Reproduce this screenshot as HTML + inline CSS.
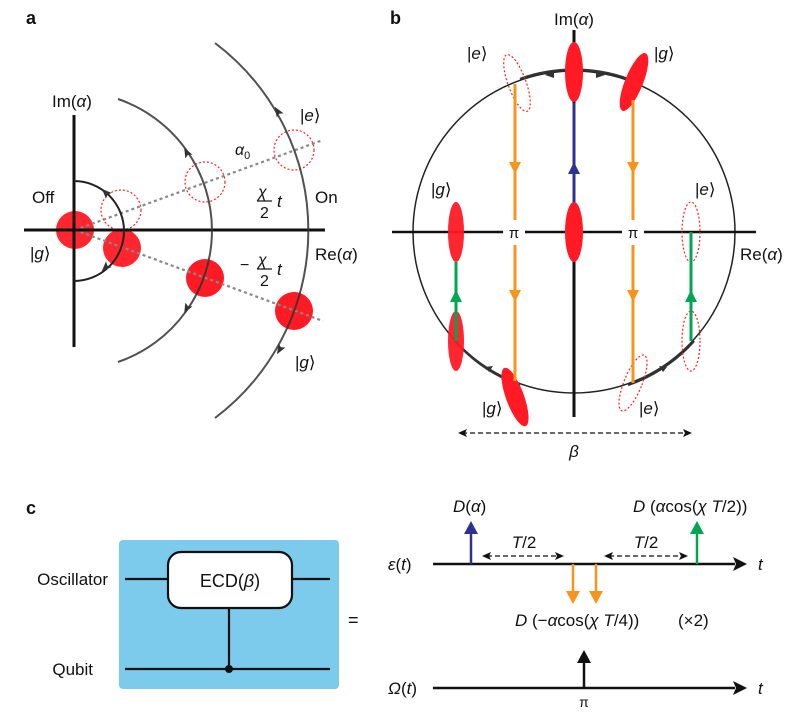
<!DOCTYPE html>
<html><head><meta charset="utf-8"><style>
html,body{margin:0;padding:0;background:#fff}
svg text{font-family:"Liberation Sans",sans-serif;fill:#111}
.i{font-style:italic}
</style></head><body>
<svg width="790" height="717" viewBox="0 0 790 717" xmlns="http://www.w3.org/2000/svg">
<!-- Panel a -->
<text x="26" y="24" font-weight="bold" font-size="18">a</text>
<circle cx="75" cy="230" r="19" fill="#ff1a24" opacity="0.95"/>
<circle cx="122" cy="248" r="19" fill="#ff1a24" opacity="0.95"/>
<circle cx="205" cy="278" r="19" fill="#ff1a24"/>
<circle cx="294" cy="311" r="19" fill="#ff1a24"/>
<line x1="75" y1="230" x2="323" y2="140" stroke="#888" stroke-width="2.2" stroke-dasharray="3,3"/>
<line x1="75" y1="230" x2="323" y2="321" stroke="#888" stroke-width="2.2" stroke-dasharray="3,3"/>
<circle cx="121" cy="210" r="20" fill="none" stroke="#f22" stroke-width="1.2" stroke-dasharray="2,2"/>
<circle cx="205" cy="182" r="20" fill="none" stroke="#f22" stroke-width="1.2" stroke-dasharray="2,2"/>
<circle cx="294" cy="150" r="20" fill="none" stroke="#f22" stroke-width="1.2" stroke-dasharray="2,2"/>
<line x1="74" y1="115" x2="74" y2="347" stroke="#111" stroke-width="3"/>
<line x1="24" y1="230" x2="325" y2="230" stroke="#111" stroke-width="3"/>
<path d="M74,181 A49,49 0 0 1 74,281" fill="none" stroke="#222" stroke-width="2"/>
<path d="M118,99 A139,139 0 0 1 118,362" fill="none" stroke="#333" stroke-width="2" opacity="0.85"/>
<path d="M215,43 A235,235 0 0 1 215,418" fill="none" stroke="#333" stroke-width="2" opacity="0.85"/>
<g fill="#333">
<path d="M0,-6 L4,4 L0,2 L-4,4z" transform="translate(106,193) rotate(-45)"/>
<path d="M0,-6 L4,4 L0,2 L-4,4z" transform="translate(106,267) rotate(-135)"/>
<path d="M0,-6 L4,4 L0,2 L-4,4z" transform="translate(187,153) rotate(-28)"/>
<path d="M0,-6 L4,4 L0,2 L-4,4z" transform="translate(187,308) rotate(-152)"/>
<path d="M0,-6 L4,4 L0,2 L-4,4z" transform="translate(278,112) rotate(-32)"/>
<path d="M0,-6 L4,4 L0,2 L-4,4z" transform="translate(280,349) rotate(-150)"/>
</g>
<text x="52" y="107" font-size="17">Im(<tspan class="i">α</tspan>)</text>
<text x="300" y="121" font-size="17">|<tspan class="i">e</tspan>⟩</text>
<text x="235" y="155" font-size="16" class="i">α<tspan font-size="11" dy="4" font-style="normal">0</tspan></text>
<text x="258" y="197" font-size="16" class="i">χ</text>
<line x1="257" y1="201" x2="272" y2="201" stroke="#111" stroke-width="1.2"/>
<text x="260" y="218" font-size="16">2</text>
<text x="277" y="207" font-size="17" class="i">t</text>
<text x="315" y="203" font-size="17">On</text>
<text x="32" y="203" font-size="17">Off</text>
<text x="30" y="259" font-size="17">|<tspan class="i">g</tspan>⟩</text>
<text x="315" y="260" font-size="17">Re(<tspan class="i">α</tspan>)</text>
<text x="240" y="270" font-size="16">−</text>
<text x="258" y="265" font-size="16" class="i">χ</text>
<line x1="257" y1="269" x2="272" y2="269" stroke="#111" stroke-width="1.2"/>
<text x="260" y="286" font-size="16">2</text>
<text x="277" y="275" font-size="17" class="i">t</text>
<text x="295" y="368" font-size="17">|<tspan class="i">g</tspan>⟩</text>

<!-- Panel b -->
<text x="390" y="24" font-weight="bold" font-size="18">b</text>
<circle cx="574" cy="232" r="161" fill="none" stroke="#222" stroke-width="1.5"/>
<path d="M520,79 A161,161 0 0 1 628,79" fill="none" stroke="#333" stroke-width="2.5"/>
<path d="M455,341 A161,161 0 0 0 520,385" fill="none" stroke="#333" stroke-width="2.5"/>
<path d="M628,385 A161,161 0 0 0 694,341" fill="none" stroke="#333" stroke-width="2.5"/>
<path d="M545,75 l9,-4 l0,7z" fill="#333"/>
<path d="M605,75 l-9,-4 l0,7z" fill="#333"/>
<path d="M485,367 l8,-1 l-4,6z" fill="#333"/>
<path d="M667,367 l-8,-1 l4,6z" fill="#333"/>
<line x1="392" y1="232" x2="756" y2="232" stroke="#111" stroke-width="2.5"/>
<line x1="574" y1="30" x2="574" y2="417" stroke="#111" stroke-width="3"/>
<ellipse cx="574" cy="72" rx="9" ry="30" fill="#ff1a24"/>
<ellipse cx="574" cy="232" rx="9" ry="30" fill="#ff1a24"/>
<ellipse cx="456" cy="232" rx="8" ry="30" fill="#ff1a24" opacity="0.95"/>
<ellipse cx="456" cy="341" rx="8" ry="30" fill="#ff1a24" opacity="0.95"/>
<ellipse cx="515" cy="397" rx="9" ry="31" fill="#ff1a24" transform="rotate(-20 515 397)"/>
<ellipse cx="634" cy="82" rx="9" ry="31" fill="#ff1a24" transform="rotate(22 634 82)"/>
<g fill="none" stroke="#f22" stroke-width="1.2" stroke-dasharray="2,2">
<ellipse cx="517" cy="83" rx="9" ry="30" transform="rotate(-20 517 83)"/>
<ellipse cx="691" cy="232" rx="9" ry="30"/>
<ellipse cx="691" cy="341" rx="9" ry="30"/>
<ellipse cx="633" cy="383" rx="9" ry="30" transform="rotate(22 633 383)"/>
</g>
<g stroke="#f7941d" stroke-width="3">
<line x1="515" y1="84" x2="515" y2="220"/><line x1="515" y1="245" x2="515" y2="381"/>
<line x1="633" y1="100" x2="633" y2="220"/><line x1="633" y1="245" x2="633" y2="383"/>
</g>
<g fill="#f7941d">
<path d="M509,162 h12 l-6,12z"/><path d="M509,290 h12 l-6,12z"/>
<path d="M627,162 h12 l-6,12z"/><path d="M627,290 h12 l-6,12z"/>
</g>
<line x1="574" y1="103" x2="574" y2="202" stroke="#2e3192" stroke-width="3"/>
<path d="M568,174 h12 l-6,-12z" fill="#2e3192"/>
<line x1="456" y1="262" x2="456" y2="341" stroke="#00a651" stroke-width="3"/>
<path d="M450,302 h12 l-6,-12z" fill="#00a651"/>
<line x1="691" y1="232" x2="691" y2="341" stroke="#00a651" stroke-width="3"/>
<path d="M685,302 h12 l-6,-12z" fill="#00a651"/>
<rect x="503" y="224" width="22" height="16" fill="#fff"/>
<rect x="622" y="224" width="22" height="16" fill="#fff"/>
<text x="514" y="238" font-size="15" text-anchor="middle">π</text>
<text x="633" y="238" font-size="15" text-anchor="middle">π</text>
<text x="574" y="25" font-size="17" text-anchor="middle">Im(<tspan class="i">α</tspan>)</text>
<text x="467" y="59" font-size="17">|<tspan class="i">e</tspan>⟩</text>
<text x="654" y="59" font-size="17">|<tspan class="i">g</tspan>⟩</text>
<text x="431" y="195" font-size="17">|<tspan class="i">g</tspan>⟩</text>
<text x="695" y="195" font-size="17">|<tspan class="i">e</tspan>⟩</text>
<text x="740" y="260" font-size="17">Re(<tspan class="i">α</tspan>)</text>
<text x="482" y="414" font-size="17">|<tspan class="i">g</tspan>⟩</text>
<text x="639" y="414" font-size="17">|<tspan class="i">e</tspan>⟩</text>
<line x1="462" y1="433" x2="688" y2="433" stroke="#111" stroke-width="1.3" stroke-dasharray="5,3"/>
<path d="M458,433 l9,-4 l-2,4 l2,4z" fill="#111"/>
<path d="M692,433 l-9,-4 l2,4 l-2,4z" fill="#111"/>
<text x="574" y="457" font-size="17" text-anchor="middle" class="i">β</text>

<!-- Panel c -->
<text x="26" y="514" font-weight="bold" font-size="18">c</text>
<rect x="119" y="540" width="220" height="149" rx="4" fill="#7ccbed"/>
<line x1="125" y1="579" x2="330" y2="579" stroke="#111" stroke-width="2.2"/>
<line x1="125" y1="669" x2="330" y2="669" stroke="#111" stroke-width="2.2"/>
<line x1="229" y1="600" x2="229" y2="669" stroke="#111" stroke-width="2.2"/>
<circle cx="229" cy="669" r="4" fill="#111"/>
<rect x="168" y="552" width="124" height="56" rx="13" fill="#fff" stroke="#111" stroke-width="2.2"/>
<text x="230" y="587" font-size="18" text-anchor="middle">ECD(<tspan class="i">β</tspan>)</text>
<text x="108" y="585" font-size="17" text-anchor="end">Oscillator</text>
<text x="93" y="675" font-size="17" text-anchor="end">Qubit</text>
<text x="348" y="626" font-size="18">=</text>

<line x1="433" y1="564" x2="735" y2="564" stroke="#111" stroke-width="2.5"/>
<path d="M747,564 l-14,-7 l3,7 l-3,7z" fill="#111"/>
<text x="758" y="570" font-size="17" class="i">t</text>
<text x="388" y="570" font-size="17" class="i">ε<tspan font-style="normal">(</tspan>t<tspan font-style="normal">)</tspan></text>
<line x1="471" y1="564" x2="471" y2="530" stroke="#2e3192" stroke-width="2.5"/>
<path d="M464,534 l7,-13 l7,13z" fill="#2e3192"/>
<line x1="697" y1="564" x2="697" y2="530" stroke="#00a651" stroke-width="2.5"/>
<path d="M690,534 l7,-13 l7,13z" fill="#00a651"/>
<line x1="573" y1="564" x2="573" y2="594" stroke="#f7941d" stroke-width="2.5"/>
<path d="M566,591 l7,13 l7,-13z" fill="#f7941d"/>
<line x1="596" y1="564" x2="596" y2="594" stroke="#f7941d" stroke-width="2.5"/>
<path d="M589,591 l7,13 l7,-13z" fill="#f7941d"/>
<line x1="487" y1="556" x2="560" y2="556" stroke="#111" stroke-width="1.3" stroke-dasharray="5,3"/>
<path d="M482,556 l9,-4 l-2,4 l2,4z" fill="#111"/><path d="M564,556 l-9,-4 l2,4 l-2,4z" fill="#111"/>
<line x1="609" y1="556" x2="683" y2="556" stroke="#111" stroke-width="1.3" stroke-dasharray="5,3"/>
<path d="M604,556 l9,-4 l-2,4 l2,4z" fill="#111"/><path d="M688,556 l-9,-4 l2,4 l-2,4z" fill="#111"/>
<text x="524" y="548" font-size="17" text-anchor="middle" class="i">T<tspan font-style="normal">/2</tspan></text>
<text x="646" y="548" font-size="17" text-anchor="middle" class="i">T<tspan font-style="normal">/2</tspan></text>
<text x="453" y="512" font-size="17" class="i">D<tspan font-style="normal">(</tspan>α<tspan font-style="normal">)</tspan></text>
<text x="633" y="512" font-size="17" class="i">D <tspan font-style="normal">(</tspan>α<tspan font-style="normal">cos(</tspan>χ T<tspan font-style="normal">/2))</tspan></text>
<text x="515" y="626" font-size="17" class="i">D <tspan font-style="normal">(−</tspan>α<tspan font-style="normal">cos(</tspan>χ T<tspan font-style="normal">/4))</tspan></text>
<text x="678" y="626" font-size="17">(×2)</text>
<line x1="433" y1="688" x2="735" y2="688" stroke="#111" stroke-width="2.5"/>
<path d="M747,688 l-14,-7 l3,7 l-3,7z" fill="#111"/>
<text x="758" y="694" font-size="17" class="i">t</text>
<text x="388" y="694" font-size="17" class="i">Ω<tspan font-style="normal">(</tspan>t<tspan font-style="normal">)</tspan></text>
<line x1="584" y1="688" x2="584" y2="660" stroke="#111" stroke-width="2.5"/>
<path d="M577,663 l7,-13 l7,13z" fill="#111"/>
<text x="584" y="707" font-size="14" text-anchor="middle">π</text>
</svg>
</body></html>
